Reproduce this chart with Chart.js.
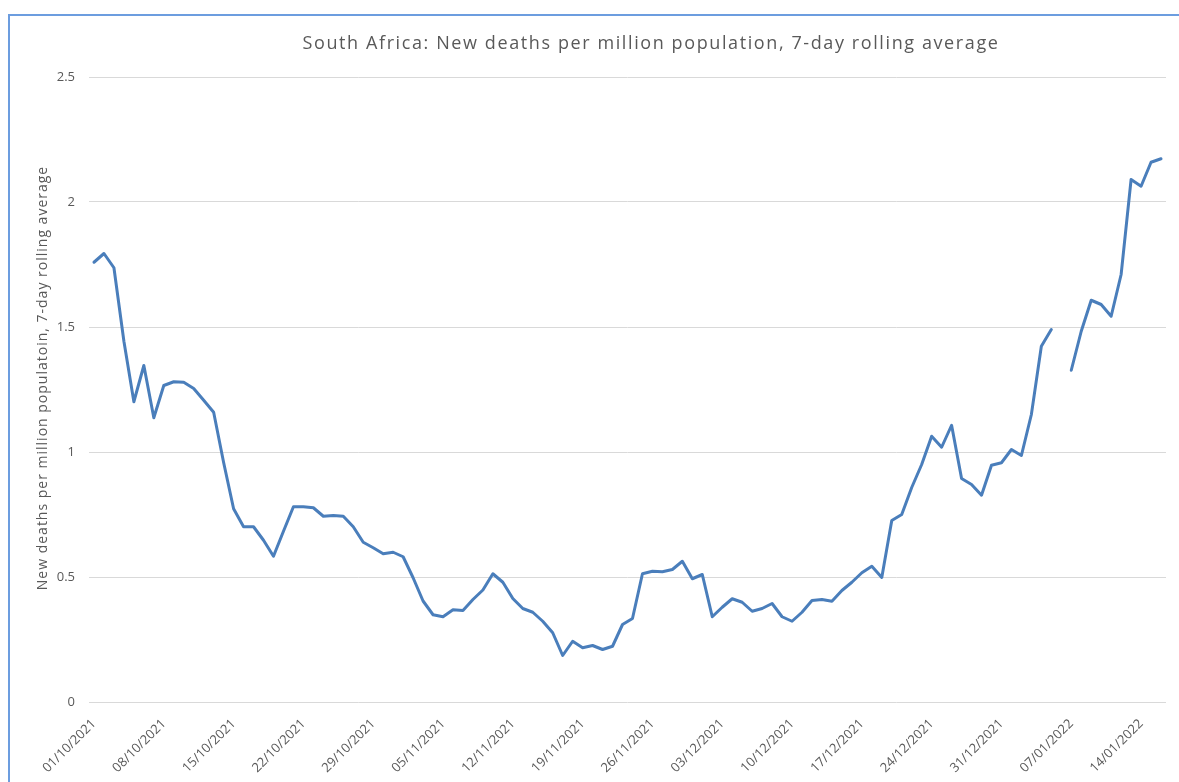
<!DOCTYPE html>
<html><head><meta charset="utf-8">
<script src="https://cdn.jsdelivr.net/npm/chart.js@4.4.1/dist/chart.umd.min.js"></script>
<style>
html,body{margin:0;padding:0;background:#fff;overflow:hidden}
#wrap{position:relative;width:1179px;height:782px}
#frame{position:absolute;left:8px;top:14px;width:1200px;height:800px;border-left:2px solid #6c9ddf;border-top:2px solid #6c9ddf;pointer-events:none}
canvas{position:absolute;left:0;top:0}
</style></head><body>
<div id="wrap"><canvas id="c" width="1179" height="782"></canvas><div id="frame"></div></div>
<script>
const chartTitle = "South Africa: New deaths per million population, 7-day rolling average";
const yAxisTitle = "New deaths per million populatoin, 7-day rolling average";
const categories = [
"01/10/2021","02/10/2021","03/10/2021","04/10/2021","05/10/2021","06/10/2021","07/10/2021","08/10/2021","09/10/2021","10/10/2021",
"11/10/2021","12/10/2021","13/10/2021","14/10/2021","15/10/2021","16/10/2021","17/10/2021","18/10/2021","19/10/2021","20/10/2021",
"21/10/2021","22/10/2021","23/10/2021","24/10/2021","25/10/2021","26/10/2021","27/10/2021","28/10/2021","29/10/2021","30/10/2021",
"31/10/2021","01/11/2021","02/11/2021","03/11/2021","04/11/2021","05/11/2021","06/11/2021","07/11/2021","08/11/2021","09/11/2021",
"10/11/2021","11/11/2021","12/11/2021","13/11/2021","14/11/2021","15/11/2021","16/11/2021","17/11/2021","18/11/2021","19/11/2021",
"20/11/2021","21/11/2021","22/11/2021","23/11/2021","24/11/2021","25/11/2021","26/11/2021","27/11/2021","28/11/2021","29/11/2021",
"30/11/2021","01/12/2021","02/12/2021","03/12/2021","04/12/2021","05/12/2021","06/12/2021","07/12/2021","08/12/2021","09/12/2021",
"10/12/2021","11/12/2021","12/12/2021","13/12/2021","14/12/2021","15/12/2021","16/12/2021","17/12/2021","18/12/2021","19/12/2021",
"20/12/2021","21/12/2021","22/12/2021","23/12/2021","24/12/2021","25/12/2021","26/12/2021","27/12/2021","28/12/2021","29/12/2021",
"30/12/2021","31/12/2021","01/01/2022","02/01/2022","03/01/2022","04/01/2022","05/01/2022","06/01/2022","07/01/2022","08/01/2022",
"09/01/2022","10/01/2022","11/01/2022","12/01/2022","13/01/2022","14/01/2022","15/01/2022","16/01/2022"
];
const deathsPerMillion = [
1.759,1.794,1.737,1.443,1.201,1.346,1.137,1.266,1.281,1.279,
1.254,1.207,1.159,0.958,0.773,0.701,0.701,0.647,0.583,0.683,
0.781,0.781,0.777,0.743,0.746,0.743,0.701,0.639,0.617,0.593,
0.599,0.581,0.497,0.404,0.349,0.341,0.369,0.366,0.410,0.448,
0.513,0.479,0.414,0.374,0.359,0.323,0.277,0.186,0.243,0.217,
0.226,0.210,0.223,0.310,0.334,0.513,0.523,0.521,0.530,0.563,
0.493,0.510,0.341,0.379,0.413,0.399,0.363,0.374,0.394,0.341,
0.323,0.359,0.406,0.410,0.403,0.446,0.479,0.517,0.543,0.498,
0.726,0.750,0.858,0.950,1.063,1.019,1.107,0.894,0.870,0.827,
0.947,0.957,1.010,0.986,1.150,1.423,1.490,null,1.327,1.483,
1.607,1.590,1.543,1.710,2.090,2.063,2.159,2.173
];
const yTickValues = [0, 0.5, 1, 1.5, 2, 2.5];
const labelEvery = 7;

const textColor = '#595959';
const fontFamily = "'Open Sans', 'Liberation Sans', sans-serif";

const titlesPlugin = {
  id: 'excelTitles',
  afterDraw(chart) {
    const ctx = chart.ctx;
    ctx.save();
    ctx.font = "18px " + fontFamily;
    ctx.letterSpacing = '1.6px';
    ctx.fillStyle = textColor;
    ctx.textAlign = 'center';
    ctx.textBaseline = 'middle';
    ctx.fillText(chartTitle, 651, 44);
    ctx.restore();

    ctx.save();
    ctx.font = "14px " + fontFamily;
    ctx.letterSpacing = '1px';
    ctx.fillStyle = textColor;
    ctx.textAlign = 'center';
    ctx.textBaseline = 'middle';
    ctx.translate(43, 378);
    ctx.rotate(-Math.PI / 2);
    ctx.fillText(yAxisTitle, 0, 0);
    ctx.restore();
  }
};

new Chart(document.getElementById('c'), {
  type: 'line',
  data: {
    labels: categories,
    datasets: [{
      label: 'New deaths per million',
      data: deathsPerMillion,
      borderColor: '#4a7ebb',
      borderWidth: 3,
      pointRadius: 0,
      tension: 0,
      spanGaps: false,
      borderJoinStyle: 'round',
      borderCapStyle: 'round',
      fill: false
    }]
  },
  options: {
    responsive: false,
    devicePixelRatio: 1,
    animation: false,
    layout: { padding: { left: 31, right: 13, top: 77, bottom: 0 } },
    plugins: { legend: { display: false }, title: { display: false }, tooltip: { enabled: false } },
    scales: {
      x: {
        type: 'category',
        offset: true,
        grid: { display: false, drawTicks: false },
        border: { display: false },
        ticks: {
          autoSkip: false, maxRotation: 45, minRotation: 45,
          padding: 14,
          color: textColor,
          font: { family: fontFamily, size: 13 },
          callback: function(v, i) { return i % labelEvery === 0 ? categories[i] : null; }
        },
        afterFit(axis) { axis.height = 80; }
      },
      y: {
        min: 0, max: 2.5,
        afterBuildTicks(axis) { axis.ticks = yTickValues.map(v => ({ value: v })); },
        grid: { color: '#d9d9d9', lineWidth: 1, drawTicks: false },
        border: { display: false },
        ticks: {
          padding: 14,
          color: textColor,
          font: { family: fontFamily, size: 13 },
          callback: v => String(v)
        },
        title: { display: false },
        afterFit(axis) { axis.width = 58; }
      }
    }
  },
  plugins: [titlesPlugin]
});
</script>
</body></html>
